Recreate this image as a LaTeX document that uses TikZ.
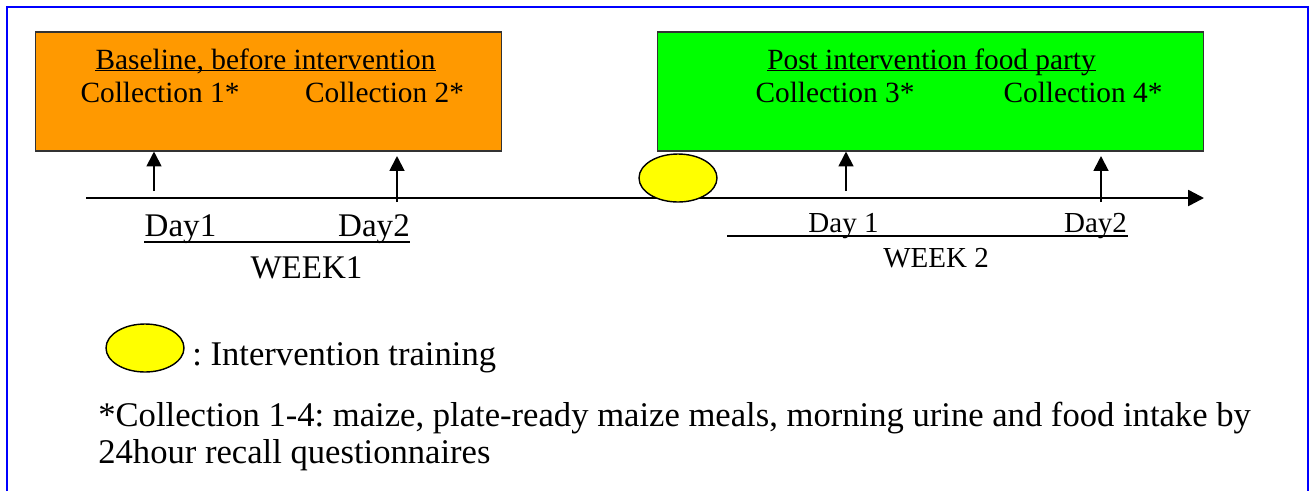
\documentclass[tikz,border=0pt]{standalone}
\usepackage{fontspec}
\setmainfont{Liberation Serif}
\usetikzlibrary{arrows.meta,shapes.geometric}
\definecolor{corange}{RGB}{255,153,0}
\definecolor{cgreen}{RGB}{0,255,0}
\definecolor{cyellow}{RGB}{255,255,0}
\definecolor{cframe}{RGB}{0,0,255}
\frenchspacing

\begin{document}
\begin{tikzpicture}[x=0.02cm, y=-0.02cm,
    phase/.style={draw=black!80, line width=0.6pt, minimum height=2.38cm, inner sep=0pt},
    boxtext/.style={font=\fontsize{16.7}{20}\selectfont, inner sep=0pt, anchor=base},
    daytext/.style={font=\fontsize{18.8}{22}\selectfont, inner sep=0pt, anchor=base},
    daytwo/.style={font=\fontsize{16.5}{19}\selectfont, inner sep=0pt, anchor=base},
    legend/.style={font=\fontsize{19.7}{20.8}\selectfont, inner sep=0pt, anchor=base west, align=left},
    training/.style={ellipse, draw=black, line width=0.8pt, fill=cyellow,
                     minimum width=1.56cm, minimum height=0.96cm, inner sep=0pt},
    collarrow/.style={-{Triangle[length=8.5pt,width=8.5pt]}, line width=1.1pt},
  ]
  \useasboundingbox (0,0) rectangle (1311,491);
  \draw[cframe, line width=1.1pt] (7,491) -- (7,7) -- (1308,7) -- (1308,491);

  % Week 1
  \node[phase, fill=corange, minimum width=9.34cm] (base) at (268.5,91.5) {};
  \node[boxtext] (basetitle) at (265.5,69) {Baseline, before intervention};
  \draw[line width=0.8pt] ([yshift=-1pt]basetitle.base west) -- ([yshift=-1pt]basetitle.base east);
  \node[boxtext] (coll1) at (160,102) {Collection 1*};
  \node[boxtext] (coll2) at (384.5,102) {Collection 2*};

  % Week 2
  \node[phase, fill=cgreen, minimum width=10.94cm] (party) at (930.5,91.5) {};
  \node[boxtext] (partytitle) at (931.5,69) {Post intervention food party};
  \draw[line width=0.8pt] ([yshift=-1pt]partytitle.base west) -- ([yshift=-1pt]partytitle.base east);
  \node[boxtext] (coll3) at (835,102) {Collection 3*};
  \node[boxtext] (coll4) at (1083,102) {Collection 4*};

  % time line
  \coordinate (tstart) at (86,198);
  \coordinate (tend) at (1204,198);
  \draw[-{Triangle[length=9pt,width=9pt]}, line width=1.4pt] (tstart) -- (tend);
  \node[training] (train) at (678,178) {};

  % collection days
  \coordinate (d1) at (154,191);
  \coordinate (d2) at (397,202);
  \coordinate (d2top) at (397,156);
  \coordinate (d3) at (846,191);
  \coordinate (d4) at (1101,202);
  \coordinate (d4top) at (1101,156);
  \draw[collarrow] (d1) -- (d1 |- base.south);
  \draw[collarrow] (d2) -- (d2top);
  \draw[collarrow] (d3) -- (d3 |- party.south);
  \draw[collarrow] (d4) -- (d4top);

  \node[daytext] (day1) at (180.5,236.5) {Day1};
  \node[daytext] (day2) at (374,236.5) {Day2};
  \draw[line width=0.9pt] ([yshift=-3pt]day1.base west) -- ([yshift=-3pt]day2.base east);
  \node[daytext] (week1) at (306.5,278) {WEEK1};

  \node[daytwo] (day3) at (843.5,232) {Day 1};
  \node[daytwo] (day4) at (1095.5,232) {Day2};
  \draw[line width=0.9pt] (727,236) -- (1128,236);
  \node[daytwo] (week2) at (936,267) {WEEK 2};

  % legend
  \node[training] (key) at (145,348) {};
  \node[legend] (keytext) at (192,365) {: Intervention training};
  \node[legend] (note) at (98,463) {*Collection 1-4: maize, plate-ready maize meals, morning urine and food intake by\\24hour recall questionnaires};
\end{tikzpicture}
\end{document}
